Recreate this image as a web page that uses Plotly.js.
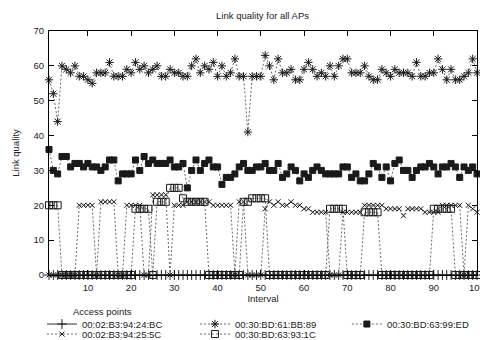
<!DOCTYPE html>
<html><head><meta charset="utf-8">
<script src="https://cdn.plot.ly/plotly-3.0.1.min.js"></script>
<style>html,body{margin:0;padding:0;background:#fff}#chart{width:480px;height:340px}</style>
</head><body><div id="chart"></div>
<script>
const intervals = [1,2,3,4,5,6,7,8,9,10,11,12,13,14,15,16,17,18,19,20,21,22,23,24,25,26,27,28,29,30,31,32,33,34,35,36,37,38,39,40,41,42,43,44,45,46,47,48,49,50,51,52,53,54,55,56,57,58,59,60,61,62,63,64,65,66,67,68,69,70,71,72,73,74,75,76,77,78,79,80,81,82,83,84,85,86,87,88,89,90,91,92,93,94,95,96,97,98,99,100];

const apNames = ["00:02:B3:94:24:BC","00:02:B3:94:25:5C","00:30:BD:61:BB:89","00:30:BD:63:93:1C","00:30:BD:63:99:ED"];

const ap_24BC = [0,0,0,0,0,0,0,0,0,0,0,0,0,0,0,0,0,0,0,0,0,0,0,0,0,0,0,0,0,0,0,0,0,0,0,0,0,0,0,0,0,0,0,0,0,0,0,0,0,0,0,0,0,0,0,0,0,0,0,0,0,0,0,0,0,0,0,0,0,0,0,0,0,0,0,0,0,0,0,0,0,0,0,0,0,0,0,0,0,0,0,0,0,0,0,0,0,0,0,0];

const ap_255C = [0,0,0,0,0,0,0,20,20,20,20,0,21,21,21,21,0,0,20,20,20,20,0,0,23,23,23,23,0,20,20,20,21,21,21,21,21,21,20,20,20,20,20,0,21,21,0,0,0,0,19,21,20,21,20,20,21,20,20,19,19,18,18,18,18,0,0,0,18,18,18,18,18,20,20,20,20,20,19,19,19,19,17,19,19,19,19,18,18,18,18,20,20,20,20,20,0,20,19,18];

const ap_BB89 = [56,52,44,60,59,58,60,57,57,56,55,58,58,58,61,57,57,57,59,58,61,59,60,58,59,60,57,57,59,58,58,57,57,60,62,58,60,59,61,57,60,57,58,62,57,57,41,57,57,57,63,60,56,62,58,58,59,56,56,59,61,59,57,58,57,60,57,60,62,62,58,58,58,60,57,56,56,59,58,57,59,58,58,58,57,61,57,57,58,58,62,59,56,59,56,56,57,58,62,58];

const ap_931C = [20,20,20,0,0,0,0,0,0,0,0,0,0,0,0,0,0,0,0,0,19,19,19,19,0,21,21,21,25,25,25,22,21,21,21,21,21,0,0,0,0,0,0,0,0,21,21,22,22,22,22,0,0,0,0,0,0,0,0,0,0,0,0,0,0,19,19,19,19,0,0,0,0,18,18,18,18,0,0,0,0,0,0,0,0,0,0,0,0,19,19,19,19,19,0,0,0,0,0,0];

const ap_99ED = [36,30,29,34,34,31,32,32,31,32,31,31,30,31,33,33,27,29,29,29,33,30,34,32,33,32,32,32,33,31,31,32,25,30,33,30,32,33,31,31,26,28,28,29,31,32,30,30,31,31,32,30,30,32,28,29,31,30,27,29,28,30,31,30,29,29,29,29,31,31,28,29,27,27,29,32,31,28,31,27,32,33,30,30,28,30,31,31,32,31,29,31,31,32,31,28,31,30,31,29];

const xTickVals = [10,20,30,40,50,60,70,80,90,100];
const yTickVals = [0,10,20,30,40,50,60,70];

const FONT = "Liberation Sans, Arial, Helvetica, sans-serif";
const markerCol = "#1a1a1a";
const lineCol = "#6a6a6a";

function mk(name, y, symbol, size, dash, legend) {
  return {
    x: intervals, y: y, name: name, type: "scatter", mode: "lines+markers",
    legend: legend,
    line: {color: dash === "solid" ? "#333" : lineCol, width: 1, dash: dash},
    marker: {symbol: symbol, size: size, color: markerCol, line: {color: markerCol, width: 1}},
    cliponaxis: false
  };
}

const traces = [
  mk(apNames[0], ap_24BC, "cross-thin", 7, "solid", "legend"),
  mk(apNames[1], ap_255C, "x-thin", 5, "2px,2px", "legend4"),
  mk(apNames[2], ap_BB89, "asterisk", 7, "2px,2px", "legend2"),
  mk(apNames[3], ap_931C, "square-open", 7, "2px,2px", "legend5"),
  mk(apNames[4], ap_99ED, "square", 6, "2px,2px", "legend3")
];

const axisCommon = {
  showline: true, linecolor: "#000", linewidth: 1, mirror: "ticks",
  ticks: "inside", ticklen: 5, tickcolor: "#000", tickwidth: 1,
  showgrid: false, zeroline: false, ticklabeloverflow: "allow",
  tickfont: {family: FONT, size: 9.5, color: "#222"}
};

function leg(x, y) {
  return {
    orientation: "h", font: {family: FONT, size: 9.5, color: "#222"},
    bgcolor: "rgba(0,0,0,0)", xanchor: "left", yanchor: "middle",
    x: x, y: y, itemclick: false
  };
}

const layout = {
  width: 480, height: 340,
  paper_bgcolor: "#fff", plot_bgcolor: "#fff",
  margin: {l: 49, r: 3, t: 31, b: 65, pad: 0, autoexpand: false},
  title: {text: "Link quality for all APs", font: {family: FONT, size: 9.5, color: "#222"},
          x: 0.547, xanchor: "center", y: 1 - 16/340, yanchor: "middle", yref: "container"},
  xaxis: Object.assign({}, axisCommon, {
    range: [1, 100], tickvals: xTickVals, automargin: false, ticklabelstandoff: 4,
    title: {text: "Interval", font: {family: FONT, size: 9.5, color: "#222"}, standoff: 1}
  }),
  yaxis: Object.assign({}, axisCommon, {
    range: [0, 70], tickvals: yTickVals, automargin: false, ticklabelstandoff: 2,
    title: {text: "Link quality", font: {family: FONT, size: 9.5, color: "#222"}, standoff: 12}
  }),
  showlegend: true,
  legend: leg(-0.0164, -0.201),
  legend2: leg(0.341, -0.201),
  legend3: leg(0.696, -0.201),
  legend4: leg(-0.0164, -0.242),
  legend5: leg(0.341, -0.242),
  annotations: [{
    text: "Access points", xref: "paper", yref: "paper", x: 0.124, y: -0.148,
    showarrow: false, xanchor: "center", yanchor: "middle",
    font: {family: FONT, size: 9.5, color: "#222"}
  }]
};

Plotly.newPlot("chart", traces, layout, {staticPlot: true, displayModeBar: false});
</script></body></html>
